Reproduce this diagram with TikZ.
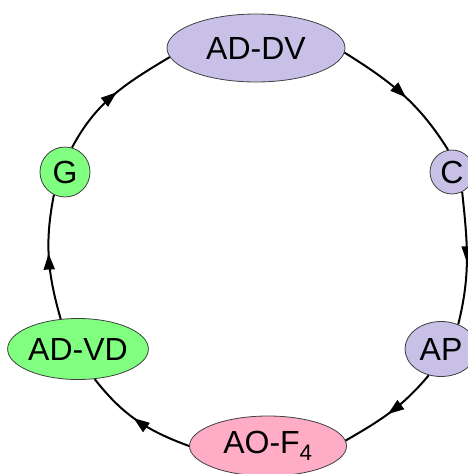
\documentclass[tikz,border=0pt]{standalone}
\usepackage{fontspec}
\setmainfont{Liberation Sans}
\usetikzlibrary{shapes.geometric,decorations.markings,arrows.meta}
\definecolor{lavender}{HTML}{C8C0E6}
\definecolor{mint}{HTML}{80FF80}
\definecolor{rose}{HTML}{FFACC6}
\tikzset{
  state/.style={ellipse,draw=black!75,line width=0.8pt,inner sep=0pt,
    font=\fontsize{32}{38}\selectfont},
  cycle/.style={line width=2pt,postaction={decorate},
    decoration={markings,mark=at position 0.53 with {\arrow{Triangle[length=16pt,width=11pt]}}}}
}

\begin{document}
\begin{tikzpicture}[x=1pt,y=-1pt]
\useasboundingbox (0,0) rectangle (467,474);
\node[state,fill=lavender,minimum width=178pt,minimum height=68pt] (dv) at (256,48) {AD-DV};
\node[state,fill=lavender,minimum width=44pt,minimum height=44pt] (c) at (452,172) {C};
\node[state,fill=lavender,minimum width=72pt,minimum height=55pt] (ap) at (441,349) {AP};
\node[state,fill=rose,minimum width=157pt,minimum height=60pt] (ao) at (268,446) {AO-F\textsubscript{4}};
\node[state,fill=mint,minimum width=139pt,minimum height=61pt] (vd) at (78,349) {AD-VD};
\node[state,fill=mint,minimum width=50pt,minimum height=50pt] (g) at (65,172) {G};
% clockwise round the cycle
\draw[cycle] (dv.-3) to[out=-32,in=122] (c.100);
\draw[cycle] (c.-63) to[out=-84,in=76] (ap.55);
\draw[cycle] (ap.-115) to[out=-130,in=30] (ao.4);
\draw[cycle] (ao.180) to[out=160,in=-52] (vd.-61);
\draw[cycle] (vd.120) to[out=106,in=-101] (g.-116);
\draw[cycle] (g.74) to[out=62,in=211] (dv.186);
\end{tikzpicture}
\end{document}
